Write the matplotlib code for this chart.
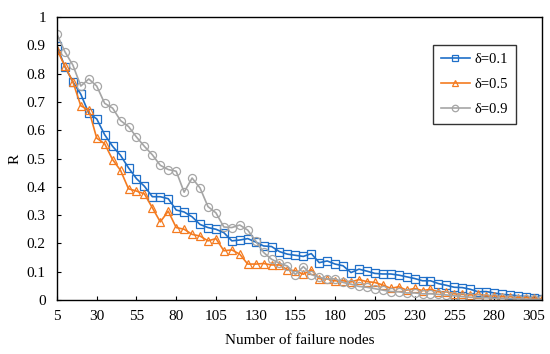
import matplotlib
matplotlib.use("Agg")
import matplotlib.pyplot as plt
import numpy as np

plt.rcParams['font.family'] = ['Liberation Serif', 'DejaVu Serif']

# failure nodes, every 5 from 5 to 310
nodes = list(range(5, 311, 5))

r_01 = [0.897, 0.824, 0.771, 0.727, 0.660, 0.640, 0.584, 0.543, 0.511, 0.467,
        0.429, 0.402, 0.365, 0.365, 0.358, 0.318, 0.311, 0.294, 0.267, 0.256,
        0.250, 0.238, 0.209, 0.212, 0.217, 0.205, 0.191, 0.189, 0.171, 0.162,
        0.158, 0.154, 0.164, 0.132, 0.138, 0.127, 0.121, 0.097, 0.109, 0.102,
        0.094, 0.092, 0.092, 0.088, 0.082, 0.076, 0.068, 0.068, 0.058, 0.052,
        0.045, 0.044, 0.038, 0.029, 0.030, 0.025, 0.020, 0.018, 0.015, 0.012,
        0.007, 0.004]

r_05 = [0.885, 0.826, 0.771, 0.686, 0.672, 0.572, 0.552, 0.496, 0.458, 0.393,
        0.385, 0.375, 0.326, 0.276, 0.314, 0.256, 0.250, 0.232, 0.226, 0.209,
        0.217, 0.174, 0.177, 0.162, 0.127, 0.127, 0.129, 0.124, 0.124, 0.107,
        0.103, 0.091, 0.107, 0.076, 0.074, 0.068, 0.068, 0.064, 0.072, 0.065,
        0.062, 0.053, 0.041, 0.047, 0.035, 0.041, 0.033, 0.038, 0.029, 0.029,
        0.022, 0.020, 0.018, 0.020, 0.015, 0.015, 0.012, 0.012, 0.008, 0.008,
        0.006, 0.004]

r_09 = [0.939, 0.877, 0.830, 0.756, 0.781, 0.756, 0.695, 0.678, 0.634, 0.613,
        0.576, 0.543, 0.513, 0.476, 0.461, 0.455, 0.381, 0.431, 0.396, 0.330,
        0.308, 0.258, 0.256, 0.265, 0.247, 0.209, 0.168, 0.144, 0.130, 0.120,
        0.090, 0.118, 0.090, 0.080, 0.074, 0.075, 0.062, 0.056, 0.048, 0.045,
        0.040, 0.035, 0.030, 0.029, 0.025, 0.025, 0.022, 0.022, 0.020, 0.018,
        0.015, 0.012, 0.010, 0.008, 0.008, 0.006, 0.006, 0.005, 0.004, 0.003,
        0.002, 0.002]

labels = ['δ=0.1', 'δ=0.5', 'δ=0.9']
colors = ['#1f6fc8', '#f47b20', '#a5a5a5']
markers = ['s', '^', 'o']

fig = plt.figure(figsize=(5.5, 3.54), dpi=100)
ax = fig.add_axes([0.1036, 0.1525, 0.8814, 0.7995])

for ys, lab, c, m in zip([r_01, r_05, r_09], labels, colors, markers):
    ax.plot(nodes, ys, color=c, lw=1.2, marker=m, markersize=5.8,
            markerfacecolor='none', markeredgecolor=c, markeredgewidth=0.9,
            label=lab)

ax.set_xlim(5, 310)
ax.set_ylim(0, 1)
ax.set_xticks(range(5, 306, 25))
ax.set_yticks(np.arange(0, 1.01, 0.1))
ax.set_yticklabels(['0', '0.1', '0.2', '0.3', '0.4', '0.5', '0.6', '0.7', '0.8', '0.9', '1'])
ax.tick_params(direction='in', length=3, labelsize=11, top=False, right=False)
ax.tick_params(axis='x', pad=7)
ax.tick_params(axis='y', pad=8)
ax.set_xlabel('Number of failure nodes', fontsize=11, labelpad=8)
ax.set_ylabel('R', fontsize=11, labelpad=4)
for s in ax.spines.values():
    s.set_linewidth(1.0)

leg = ax.legend(loc='upper left', bbox_to_anchor=(0.775, 0.901), fontsize=10.5,
                frameon=True, fancybox=False, edgecolor='black',
                handlelength=2.0, labelspacing=0.8, borderpad=0.55,
                handletextpad=0.3, borderaxespad=0.0, markerscale=0.8)
leg.get_frame().set_linewidth(1.0)

fig.savefig('out.png', dpi=100)
